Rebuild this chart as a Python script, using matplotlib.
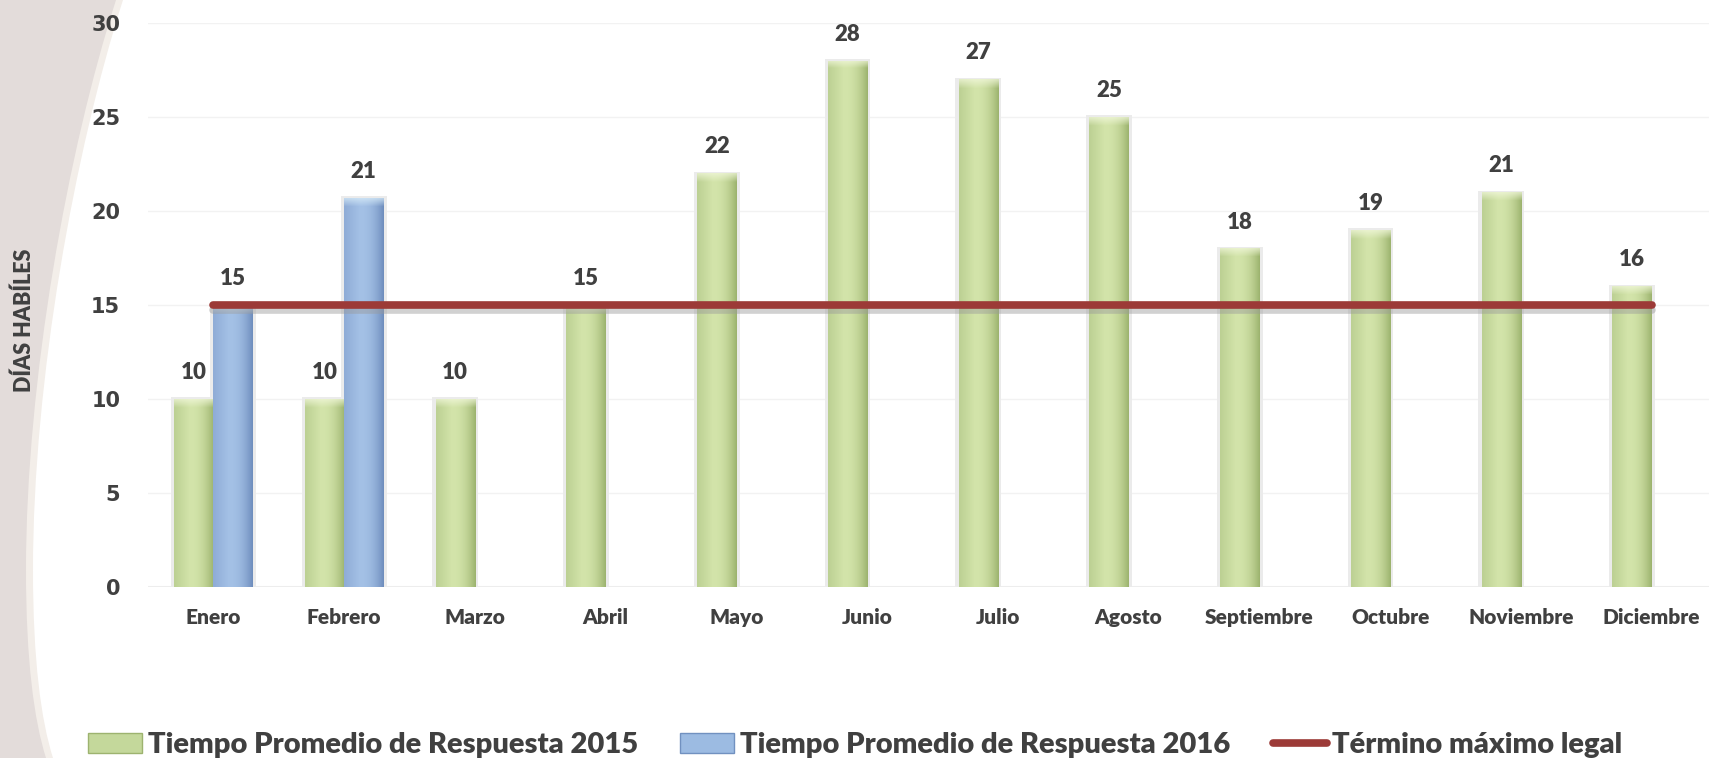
"""
tiempo promedio de respuesta por mes
"""

import numpy as np
import matplotlib
matplotlib.use("Agg")
import matplotlib.pyplot as plt
from matplotlib.patches import Patch, PathPatch, Rectangle
from matplotlib.lines import Line2D
from matplotlib.path import Path
import matplotlib.patheffects as pe

meses = ["Enero", "Febrero", "Marzo", "Abril", "Mayo", "Junio", "Julio",
         "Agosto", "Septiembre", "Octubre", "Noviembre", "Diciembre"]
tiempo_2015 = [10, 10, 10, 15, 22, 28, 27, 25, 18, 19, 21, 16]
tiempo_2016 = [15, 20.7]
termino_legal = [15] * 12

lbl_2015 = "Tiempo Promedio de Respuesta 2015"
lbl_2016 = "Tiempo Promedio de Respuesta 2016"
lbl_legal = "Término máximo legal"

TXT = "#404040"
FONT = "Lato"

W, H = 1709, 758
fig = plt.figure(figsize=(W / 100, H / 100), dpi=100)

# fondo gris curvo a la izquierda
def px(x, y):
    return (x / W, 1 - y / H)

verts = [px(0, 0), px(116, 0),
         px(68, 150), px(26, 380), px(26, 570),
         px(26, 660), px(34, 720), px(46, H),
         px(0, H), px(0, 0)]
codes = [Path.MOVETO, Path.LINETO,
         Path.CURVE4, Path.CURVE4, Path.CURVE4,
         Path.CURVE4, Path.CURVE4, Path.CURVE4,
         Path.LINETO, Path.CLOSEPOLY]
verts2 = [(vx + 7 / W, vy) if i not in (0, 8, 9) else (vx, vy) for i, (vx, vy) in enumerate(verts)]
fig.patches.append(PathPatch(Path(verts2, codes), facecolor="#F3EEE9", edgecolor="none",
                             transform=fig.transFigure, zorder=-2))
fig.patches.append(PathPatch(Path(verts, codes), facecolor="#E3DCDA", edgecolor="none",
                             transform=fig.transFigure, zorder=-1))

ax = fig.add_axes([148 / W, 1 - 586.7 / H, (1717 - 148) / W, (586.7 - 23) / H])
ax.set_facecolor("none")
ax.set_zorder(1)

x = np.arange(len(meses))
bw = 0.30


def gradient_bar(xc, h, c_left, c_mid, c_right, c_top):
    # sombra suave
    sh = Rectangle((xc - bw / 2 - 0.025, 0), bw + 0.05, h + 0.08, facecolor="#EBEBEB",
                   edgecolor="none", zorder=2)
    ax.add_patch(sh)
    rect = Rectangle((xc - bw / 2, 0), bw, h, facecolor="none", edgecolor="none", zorder=3)
    ax.add_patch(rect)
    n = 60
    t = np.linspace(0, 1, n)
    cl, cm, cr, ct = (np.array(matplotlib.colors.to_rgb(c)) for c in (c_left, c_mid, c_right, c_top))
    row = np.zeros((n, 3))
    for i, v in enumerate(t):
        if v < 0.4:
            row[i] = cl + (cm - cl) * (v / 0.4)
        else:
            row[i] = cm + (cr - cm) * ((v - 0.4) / 0.6) ** 2.2
    nr = 300
    img = np.repeat(row[None, :, :], nr, axis=0)
    k = max(2, int(nr * 0.45 / h))
    for j in range(k):
        a = 1 - j / k
        img[nr - 1 - j] = img[nr - 1 - j] * (1 - 0.7 * a) + ct * 0.7 * a
    im = ax.imshow(img, extent=(xc - bw / 2, xc + bw / 2, 0, h), origin="lower",
                   aspect="auto", zorder=3, interpolation="bilinear")
    im.set_clip_path(rect)


for i, v in enumerate(tiempo_2015):
    xc = x[i] - bw / 2
    gradient_bar(xc, v, "#BCD093", "#D3E4AA", "#9CB36E", "#F2F8DC")
    ax.annotate(f"{v:.0f}", (xc, v), xytext=(0, 19), textcoords="offset points",
                ha="center", va="center", fontsize=16, fontweight="heavy",
                color=TXT, family=FONT, zorder=6)

for i, v in enumerate(tiempo_2016):
    xc = x[i] + bw / 2
    gradient_bar(xc, v, "#8FACD6", "#A4C1E6", "#6E8DBD", "#D8ECF8")
    ax.annotate(f"{v:.0f}", (xc, v), xytext=(0, 19), textcoords="offset points",
                ha="center", va="center", fontsize=16, fontweight="heavy",
                color=TXT, family=FONT, zorder=6)

ax.plot(x, termino_legal, color="#9C3A37", linewidth=5.5, solid_capstyle="round", zorder=5,
        path_effects=[pe.SimpleLineShadow(offset=(0, -4), shadow_color="#9A9A9A", alpha=0.45),
                      pe.Normal()])

ax.set_xlim(-0.5, len(meses) - 0.5)
ax.set_ylim(0, 30.001)
ax.set_yticks(range(0, 31, 5))
ax.set_xticks(x)
ax.set_xticklabels(meses, fontsize=15, fontweight="heavy", color=TXT, family=FONT)
for t in ax.get_yticklabels():
    t.set_fontsize(15)
    t.set_fontweight("bold")
    t.set_color(TXT)
    t.set_family("DejaVu Sans")
ax.tick_params(axis="both", length=0)
ax.tick_params(axis="x", pad=15)
ax.tick_params(axis="y", pad=20)
ax.grid(axis="y", color="#F2F2F2", linewidth=1)
ax.set_axisbelow(True)
for s in ax.spines.values():
    s.set_visible(False)
ax.axhline(0, color="#EDEDED", linewidth=1.5, zorder=1)

fig.text(24 / W, 1 - 320 / H, "DÍAS HABÍLES", rotation=90, ha="center", va="center",
         fontsize=15.5, fontweight="heavy", color=TXT, family=FONT)

handles = [Patch(facecolor="#C4D89B", edgecolor="#9DB36F", linewidth=1),
           Patch(facecolor="#9CBBE2", edgecolor="#7191C0", linewidth=1),
           Line2D([0], [0], color="#9C3A37", linewidth=5.5, solid_capstyle="round")]
leg = fig.legend(handles, [lbl_2015, lbl_2016, lbl_legal], loc="center left",
                 bbox_to_anchor=(88 / W, 1 - 745 / H), ncol=3, frameon=False,
                 handlelength=1.85, handletextpad=0.2, columnspacing=1.45, borderpad=0,
                 borderaxespad=0, prop={"family": FONT, "weight": "heavy", "size": 21})
for t in leg.get_texts():
    t.set_color(TXT)

fig.savefig("out.png", dpi=100)
